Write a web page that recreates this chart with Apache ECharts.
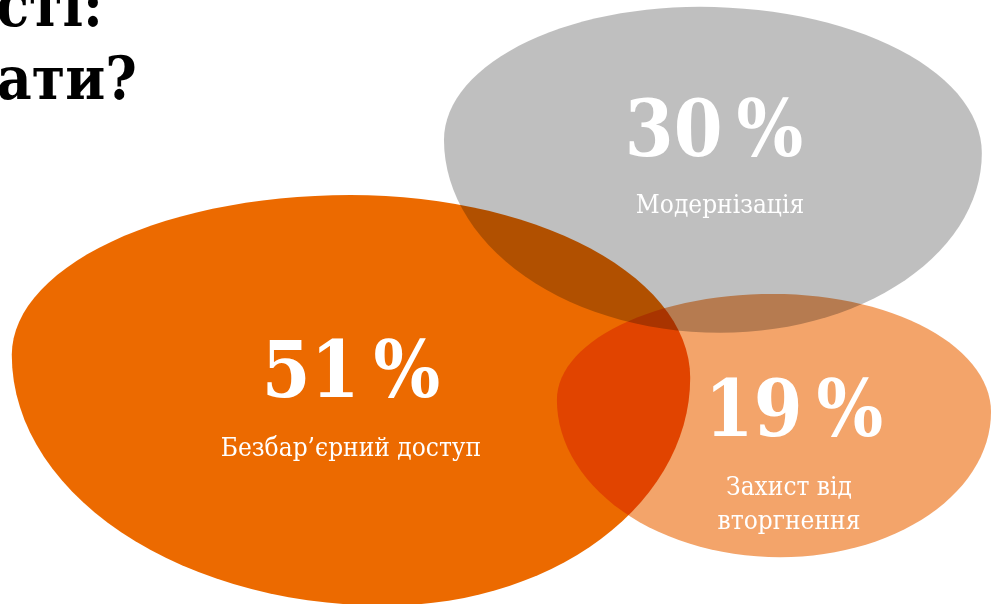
<!DOCTYPE html>
<html>
<head>
<meta charset="utf-8">
<script src="https://cdn.jsdelivr.net/npm/echarts@6/dist/echarts.min.js"></script>
<style>
  html, body {margin: 0; padding: 0; background: #fff;}
  #chart {width: 999px; height: 604px;}
</style>
</head>
<body>
<div id="chart"></div>
<script>
// 数据
const categories = ['Безбар’єрний доступ', 'Модернізація', 'Захист від\nвторгнення'];
const values = [51, 30, 19];
const titleLines = ['сті:', 'ати?'];

// 布局: blob anchor (axis units = px) and its 4 extreme points in units of 10*sqrt(value)
const centers = [[351, 370], [714, 129], [794, 409]];
const shapes = [
  {l: [-4.75, -0.21], t: [-0.01, -2.45], r: [4.75, 0.11], b: [0.48, 3.30]},
  {l: [-4.93, 0.20], t: [-0.26, -2.23], r: [4.89, 0.44], b: [0.11, 3.72]},
  {l: [-5.44, -0.21], t: [-0.48, -2.64], r: [4.52, 0.07], b: [-0.32, 3.40]}
];
const labelShift = [[0, 2], [6, 0], [-5, 2]]; // subtitle nudge
const colors = ['#EC6A00', '#BFBFBF', '#F3A46A'];
const serif = "'DejaVu Serif Condensed', 'DejaVu Serif', serif";

const chart = echarts.init(document.getElementById('chart'));

function blobPoints(c, s, u) {
  const L = [c[0] + s.l[0] * u, c[1] + s.l[1] * u];
  const T = [c[0] + s.t[0] * u, c[1] + s.t[1] * u];
  const R = [c[0] + s.r[0] * u, c[1] + s.r[1] * u];
  const B = [c[0] + s.b[0] * u, c[1] + s.b[1] * u];
  const n = 30;
  const pts = [];
  // each quadrant is a quarter ellipse between two extreme points
  for (let k = 0; k < n; k++) {
    const a = k / n * Math.PI / 2;
    pts.push([T[0] - (T[0] - L[0]) * Math.cos(a), L[1] - (L[1] - T[1]) * Math.sin(a)]);
  }
  for (let k = 0; k < n; k++) {
    const a = k / n * Math.PI / 2;
    pts.push([T[0] + (R[0] - T[0]) * Math.sin(a), R[1] - (R[1] - T[1]) * Math.cos(a)]);
  }
  for (let k = 0; k < n; k++) {
    const a = k / n * Math.PI / 2;
    pts.push([B[0] + (R[0] - B[0]) * Math.cos(a), R[1] + (B[1] - R[1]) * Math.sin(a)]);
  }
  for (let k = 0; k < n; k++) {
    const a = k / n * Math.PI / 2;
    pts.push([B[0] - (B[0] - L[0]) * Math.sin(a), L[1] + (B[1] - L[1]) * Math.cos(a)]);
  }
  return pts;
}

const seriesData = values.map((v, i) => [centers[i][0], centers[i][1], v]);

const option = {
  backgroundColor: '#fff',
  animation: false,
  grid: {left: 0, right: 0, top: 0, bottom: 0},
  xAxis: {type: 'value', min: 0, max: 999, show: false},
  yAxis: {type: 'value', min: 0, max: 604, inverse: true, show: false},
  graphic: titleLines.map((t, i) => ({
    type: 'text',
    x: i === 0 ? 103 : 137,
    y: i === 0 ? 40 : 113,
    style: {
      text: t,
      fill: '#000',
      fontFamily: serif,
      fontWeight: 'bold',
      fontSize: 60,
      align: 'right',
      verticalAlign: 'bottom'
    },
    z: 10
  })),
  series: [
    {
      // blobs, overlaps darken like the original
      type: 'custom',
      blendMode: 'multiply',
      data: seriesData,
      renderItem: function (params, api) {
        const c = api.coord([api.value(0), api.value(1)]);
        const u = api.size([1, 1])[0] * 10 * Math.sqrt(api.value(2));
        return {
          type: 'polygon',
          shape: {points: blobPoints(c, shapes[params.dataIndex], u)},
          style: {fill: colors[params.dataIndex]}
        };
      },
      z: 1
    },
    {
      // labels
      type: 'custom',
      data: seriesData,
      renderItem: function (params, api) {
        const c = api.coord([api.value(0), api.value(1)]);
        const i = params.dataIndex;
        return {
          type: 'group',
          children: [
            {
              type: 'text',
              style: {
                text: api.value(2) + '\u2009%',
                x: c[0], y: c[1] + 7,
                fill: '#fff',
                fontFamily: serif,
                fontWeight: 'bold',
                fontSize: 78,
                align: 'center',
                verticalAlign: 'middle'
              }
            },
            {
              type: 'text',
              style: {
                text: categories[i],
                x: c[0] + labelShift[i][0], y: c[1] + 60 + labelShift[i][1],
                fill: '#fff',
                fontFamily: serif,
                fontSize: 26,
                lineHeight: 34,
                align: 'center',
                verticalAlign: 'top'
              }
            }
          ]
        };
      },
      z: 5
    }
  ]
};

chart.setOption(option);
</script>
</body>
</html>
